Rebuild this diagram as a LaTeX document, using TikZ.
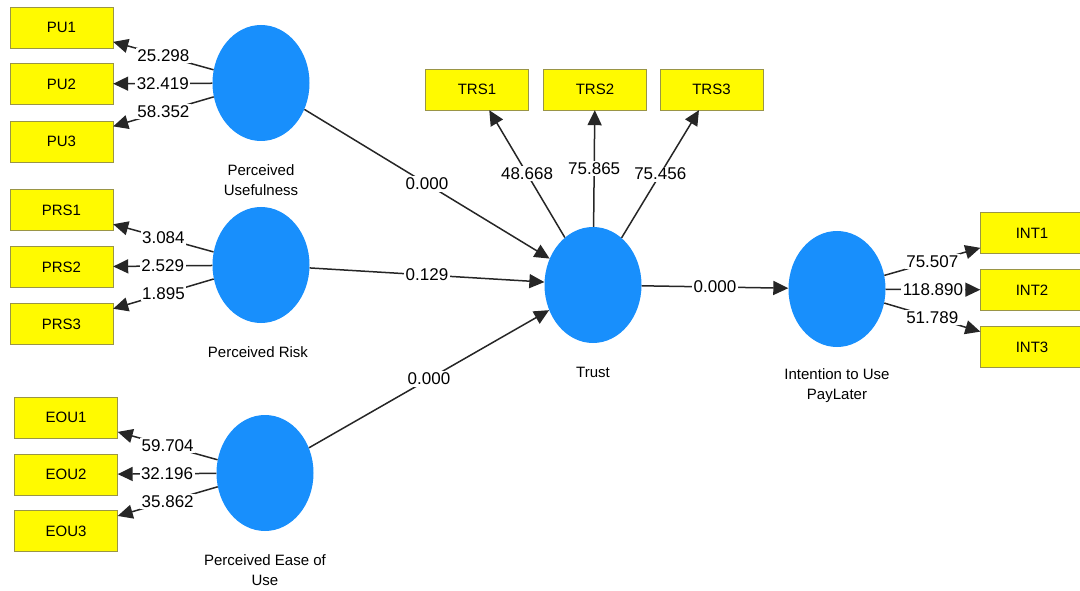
\documentclass[tikz,border=0pt]{standalone}
\usepackage{fontspec}
\setmainfont{Liberation Sans}
\usetikzlibrary{shapes.geometric,arrows.meta}
\definecolor{lvblue}{RGB}{24,143,252}
\definecolor{indyellow}{RGB}{255,250,0}

\begin{document}
\begin{tikzpicture}[x=1pt,y=-1pt,
        lv/.style={ellipse,fill=lvblue,minimum width=97pt,minimum height=116pt,inner sep=0pt},
        ind/.style={draw=yellow!55!black,fill=indyellow,minimum width=103pt,minimum height=41pt,inner sep=0pt,font=\fontsize{15}{15}\selectfont},
        lvname/.style={align=center,font=\fontsize{15}{20}\selectfont},
        coef/.style={fill=white,inner sep=1.5pt,font=\fontsize{17}{17}\selectfont},
        arr/.style={draw=black!85,line width=1.5pt,-{Triangle[length=15pt,width=14pt]}}]
    \useasboundingbox (0,0) rectangle (1080,591);
    % latent variables
    \node[lv] (pu) at (261,83) {};
    \node[lv] (pr) at (261,265) {};
    \node[lv] (eou) at (265,473) {};
    \node[lv] (trs) at (593,285) {};
    \node[lv] (int) at (837,289) {};
    \node[lvname] (pulab) at (261,180) {Perceived\\Usefulness};
    \node[lvname] (prlab) at (258,352) {Perceived Risk};
    \node[lvname] (eoulab) at (265,570) {Perceived Ease of\\Use};
    \node[lvname] (trslab) at (593,372) {Trust};
    \node[lvname] (intlab) at (837,386) {Intention to Use\\PayLater};
    % indicators
    \foreach \i/\y/\v in {1/27.5/25.298,2/84/32.419,3/141.5/58.352} {
        \node[ind] (pu\i) at (61.5,\y) {PU\i};
        \draw[arr] (pu) -- node[coef] {\v} (pu\i);
    }
    \foreach \i/\y/\v in {1/210/3.084,2/267/2.529,3/324/1.895} {
        \node[ind] (prs\i) at (61.5,\y) {PRS\i};
        \draw[arr] (pr) -- node[coef] {\v} (prs\i);
    }
    \foreach \i/\y/\v in {1/417.5/59.704,2/474.5/32.196,3/531/35.862} {
        \node[ind] (eou\i) at (66,\y) {EOU\i};
        \draw[arr] (eou) -- node[coef] {\v} (eou\i);
    }
    \foreach \i/\x/\v in {1/477/48.668,2/595/75.865,3/711.5/75.456} {
        \node[ind] (trs\i) at (\x,89.5) {TRS\i};
        \draw[arr] (trs) -- node[coef] {\v} (trs\i);
    }
    \foreach \i/\y/\v in {1/233/75.507,2/290/118.890,3/347/51.789} {
        \node[ind] (int\i) at (1032,\y) {INT\i};
        \draw[arr] (int) -- node[coef] {\v} (int\i);
    }
    % paths
    \draw[arr] (pu) -- node[coef] {0.000} (trs);
    \draw[arr] (pr) -- node[coef] {0.129} (trs);
    \draw[arr] (eou) -- node[coef] {0.000} (trs);
    \draw[arr] (trs) -- node[coef] {0.000} (int);
\end{tikzpicture}
\end{document}
